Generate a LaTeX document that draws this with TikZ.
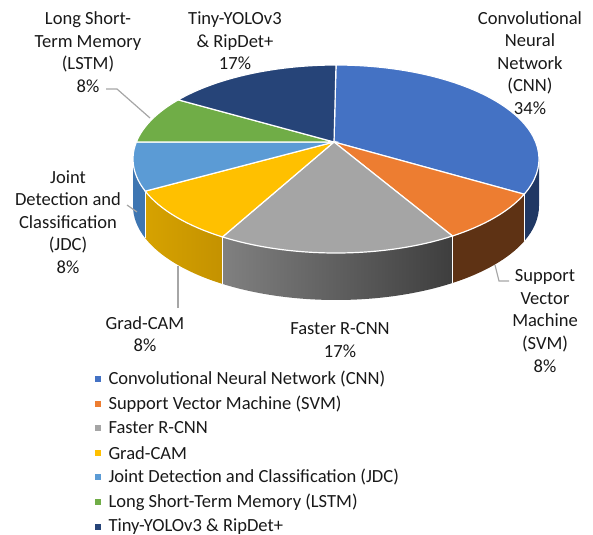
\documentclass[tikz,border=0pt]{standalone}
\usepackage{fontspec}
\setmainfont{Carlito}
\usetikzlibrary{calc}

\definecolor{cnnblue}{RGB}{68,114,196}
\definecolor{svmorange}{RGB}{237,125,49}
\definecolor{fastergray}{RGB}{165,165,165}
\definecolor{gradgold}{RGB}{255,192,0}
\definecolor{jdcblue}{RGB}{91,155,213}
\definecolor{lstmgreen}{RGB}{112,173,71}
\definecolor{tinynavy}{RGB}{38,68,120}
\definecolor{cnnside}{RGB}{32,56,100}
\definecolor{svmside}{RGB}{94,50,20}
\definecolor{jdcside}{RGB}{62,118,178}
\definecolor{leadgray}{RGB}{166,166,166}
\definecolor{labeltext}{RGB}{25,25,25}

\tikzset{every picture/.style={line width=0.75pt}}
\tikzset{
  slicesep/.style={draw=white, line width=0.9pt},
  leader/.style={draw=leadgray, line width=0.9pt},
  lbl/.style={align=center, text=labeltext, inner sep=0pt, font=\fontsize{13.9}{16.9}\selectfont},
  legtext/.style={anchor=west, text=labeltext, inner sep=0pt, font=\fontsize{13.9}{15}\selectfont},
  legkey/.style={minimum size=4pt, inner sep=0pt}
}

\begin{document}
\begin{tikzpicture}[x=0.75pt,y=0.75pt,yscale=-1,xscale=1]
\path[use as bounding box] (0,0) rectangle (593,535);

\coordinate (ctr) at (336,159);
\coordinate (apex) at (334,142);

%Shape: Side CNN
\fill [cnnside] ($(ctr)+(0:203 and 94)$) arc[start angle=0, end angle=22, x radius=203, y radius=94] -- ++(0,47) arc[start angle=22, end angle=0, x radius=203, y radius=94] -- cycle ;
%Shape: Side SVM
\fill [svmside] ($(ctr)+(22:203 and 94)$) arc[start angle=22, end angle=55, x radius=203, y radius=94] -- ++(0,47) arc[start angle=55, end angle=22, x radius=203, y radius=94] -- cycle ;
%Shape: Side Faster R-CNN
\shade [left color={rgb,255:red,128;green,128;blue,128}, right color={rgb,255:red,62;green,62;blue,62}] ($(ctr)+(55:203 and 94)$) arc[start angle=55, end angle=124, x radius=203, y radius=94] -- ++(0,47) arc[start angle=124, end angle=55, x radius=203, y radius=94] -- cycle ;
%Shape: Side Grad-CAM
\shade [left color={rgb,255:red,214;green,162;blue,0}, right color={rgb,255:red,196;green,146;blue,0}] ($(ctr)+(124:203 and 94)$) arc[start angle=124, end angle=160, x radius=203, y radius=94] -- ++(0,47) arc[start angle=160, end angle=124, x radius=203, y radius=94] -- cycle ;
%Shape: Side JDC
\fill [jdcside] ($(ctr)+(160:203 and 94)$) arc[start angle=160, end angle=180, x radius=203, y radius=94] -- ++(0,47) arc[start angle=180, end angle=160, x radius=203, y radius=94] -- cycle ;

%Straight Lines: side separators
\draw [slicesep] ($(ctr)+(22:203 and 94)$) -- ++(0,47) ;
\draw [slicesep] ($(ctr)+(55:203 and 94)$) -- ++(0,47) ;
\draw [slicesep] ($(ctr)+(124:203 and 94)$) -- ++(0,47) ;
\draw [slicesep] ($(ctr)+(160:203 and 94)$) -- ++(0,47) ;

%Shape: Slice CNN
\filldraw [fill=cnnblue, slicesep] (apex) -- ($(ctr)+(-90:203 and 94)$) arc[start angle=-90, end angle=22, x radius=203, y radius=94] -- cycle ;
%Shape: Slice SVM
\filldraw [fill=svmorange, slicesep] (apex) -- ($(ctr)+(22:203 and 94)$) arc[start angle=22, end angle=55, x radius=203, y radius=94] -- cycle ;
%Shape: Slice Faster R-CNN
\filldraw [fill=fastergray, slicesep] (apex) -- ($(ctr)+(55:203 and 94)$) arc[start angle=55, end angle=124, x radius=203, y radius=94] -- cycle ;
%Shape: Slice Grad-CAM
\filldraw [fill=gradgold, slicesep] (apex) -- ($(ctr)+(124:203 and 94)$) arc[start angle=124, end angle=160, x radius=203, y radius=94] -- cycle ;
%Shape: Slice JDC
\filldraw [fill=jdcblue, slicesep] (apex) -- ($(ctr)+(160:203 and 94)$) arc[start angle=160, end angle=190.4, x radius=203, y radius=94] -- cycle ;
%Shape: Slice LSTM
\filldraw [fill=lstmgreen, slicesep] (apex) -- ($(ctr)+(190.4:203 and 94)$) arc[start angle=190.4, end angle=219, x radius=203, y radius=94] -- cycle ;
%Shape: Slice Tiny-YOLOv3
\filldraw [fill=tinynavy, slicesep] (apex) -- ($(ctr)+(219:203 and 94)$) arc[start angle=219, end angle=270, x radius=203, y radius=94] -- cycle ;

% Text Node
\node (cnnlabel) [lbl] at (530,63) {Convolutional\\Neural\\Network\\(CNN)\\34\%};
% Text Node
\node (svmlabel) [lbl] at (545,321) {Support\\Vector\\Machine\\(SVM)\\8\%};
% Text Node
\node (fasterlabel) [lbl] at (340,340) {Faster R-CNN\\17\%};
% Text Node
\node (gradlabel) [lbl] at (145,334) {Grad-CAM\\8\%};
% Text Node
\node (jdclabel) [lbl] at (68,222) {Joint\\Detection and\\Classification\\(JDC)\\8\%};
% Text Node
\node (lstmlabel) [lbl] at (88,52) {Long Short-\\Term Memory\\(LSTM)\\8\%};
% Text Node
\node (tinylabel) [lbl] at (235,41) {Tiny-YOLOv3\\\& RipDet+\\17\%};

%Straight Lines: leaders
\coordinate (svmfoot) at (509,281);
\coordinate (svmtip) at (495,265);
\draw [leader] (svmfoot) -- (499,281) -- (svmtip) ;
\coordinate (gradfoot) at (178,308);
\coordinate (gradtip) at (178,266);
\draw [leader] (gradfoot) -- (gradtip) ;
\coordinate (jdcfoot) at (127,205);
\coordinate (jdctip) at (137,212);
\draw [leader] (jdcfoot) -- (jdctip) ;
\coordinate (lstmfoot) at (106,89);
\coordinate (lstmtip) at (150,118);
\draw [leader] (lstmfoot) -- (117,89) -- (lstmtip) ;

%Legend
\node (keycnn) [legkey, fill=cnnblue] at (98,379) {};
\node (legcnn) [legtext] at (108,379) {Convolutional Neural Network (CNN)};
\node (keysvm) [legkey, fill=svmorange] at (98,404) {};
\node (legsvm) [legtext] at (108,404) {Support Vector Machine (SVM)};
\node (keyfaster) [legkey, fill=fastergray] at (98,428) {};
\node (legfaster) [legtext] at (108,428) {Faster R-CNN};
\node (keygrad) [legkey, fill=gradgold] at (98,453) {};
\node (leggrad) [legtext] at (108,453) {Grad-CAM};
\node (keyjdc) [legkey, fill=jdcblue] at (98,477) {};
\node (legjdc) [legtext] at (108,477) {Joint Detection and Classification (JDC)};
\node (keylstm) [legkey, fill=lstmgreen] at (98,502) {};
\node (leglstm) [legtext] at (108,502) {Long Short-Term Memory (LSTM)};
\node (keytiny) [legkey, fill=tinynavy] at (98,527) {};
\node (legtiny) [legtext] at (108,527) {Tiny-YOLOv3 \& RipDet+};

\end{tikzpicture}
\end{document}
